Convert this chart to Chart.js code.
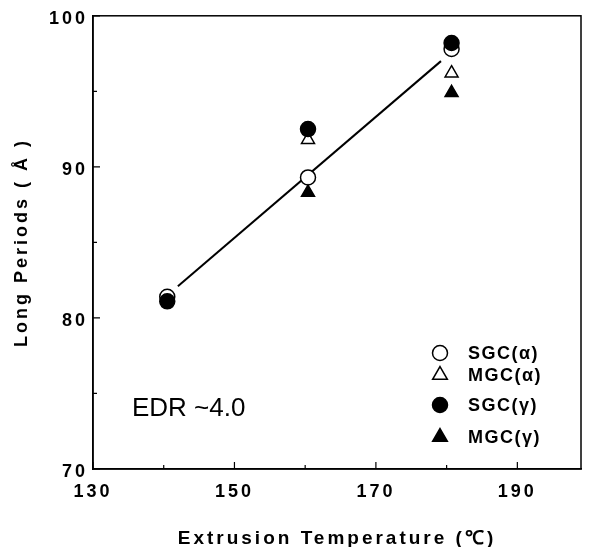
<!DOCTYPE html>
<html>
<head>
<meta charset="utf-8">
<script src="https://cdn.jsdelivr.net/npm/chart.js@4.4.1/dist/chart.umd.min.js"></script>
<style>
  html, body { margin: 0; padding: 0; background: #fff; }
  #wrap { width: 590px; height: 547px; }
</style>
</head>
<body>
<div id="wrap"><canvas id="chart"></canvas></div>
<script>
// data
const temperatures = [140.5, 160.4, 180.7];
const sgcAlpha = [81.4, 89.3, 97.8];
const mgcAlpha = [null, 91.8, 96.2];
const sgcGamma = [81.1, 92.5, 98.2];
const mgcGamma = [null, 88.3, 94.9];

// fitted line end points
const fitX = [142.0, 179.2];
const fitY = [82.1, 97.0];

const xTicks = [130, 150, 170, 190];
const xMinorTicks = [140, 160, 180];
const yTicks = [70, 80, 90, 100];
const yMinorTicks = [75, 85, 95];

const legendLabels = ["SGC(α)", "MGC(α)", "SGC(γ)", "MGC(γ)"];
const noteText = "EDR ~4.0";

const FONT = "'Liberation Sans', Arial, Helvetica, sans-serif";

function toPoints(xs, ys) {
  return xs.map((x, i) => ({ x: x, y: ys[i] })).filter(p => p.y !== null);
}

// marker styles, same order as legendLabels
const markers = [
  { pointStyle: "circle", fill: "#ffffff" },
  { pointStyle: "triangle", fill: "#ffffff" },
  { pointStyle: "circle", fill: "#000000" },
  { pointStyle: "triangle", fill: "#000000" },
];
const seriesValues = [sgcAlpha, mgcAlpha, sgcGamma, mgcGamma];
const drawOrder = [4, 4, 2, 3];

const datasets = seriesValues.map((vals, i) => ({
  type: "scatter",
  label: legendLabels[i],
  data: toPoints(temperatures, vals),
  pointStyle: markers[i].pointStyle,
  pointRadius: 7.5,
  pointHoverRadius: 7.5,
  pointBackgroundColor: markers[i].fill,
  pointBorderColor: "#000",
  pointBorderWidth: 1.5,
  showLine: false,
  order: drawOrder[i],
}));

datasets.push({
  type: "line",
  label: "fit",
  data: toPoints(fitX, fitY),
  borderColor: "#000",
  borderWidth: 2,
  pointRadius: 0,
  fill: false,
  order: 5,
});

// inward ticks, frame, legend and note
const decorations = {
  id: "decorations",
  beforeUpdate(chart) { chart.ctx.letterSpacing = "3px"; },
  beforeDraw(chart) { chart.ctx.letterSpacing = "3px"; },
  afterDraw(chart) {
    const ctx = chart.ctx;
    const a = chart.chartArea;
    const xs = chart.scales.x;
    const ys = chart.scales.y;
    ctx.save();
    ctx.letterSpacing = "0px";
    ctx.strokeStyle = "#000";
    ctx.lineWidth = 1.5;
    ctx.strokeRect(a.left, a.top, a.right - a.left, a.bottom - a.top);

    ctx.lineWidth = 1.2;
    ctx.beginPath();
    xTicks.forEach(v => {
      const px = xs.getPixelForValue(v);
      ctx.moveTo(px, a.bottom); ctx.lineTo(px, a.bottom - 7);
    });
    xMinorTicks.forEach(v => {
      const px = xs.getPixelForValue(v);
      ctx.moveTo(px, a.bottom); ctx.lineTo(px, a.bottom - 4);
    });
    yTicks.forEach(v => {
      const py = ys.getPixelForValue(v);
      ctx.moveTo(a.left, py); ctx.lineTo(a.left + 7, py);
    });
    yMinorTicks.forEach(v => {
      const py = ys.getPixelForValue(v);
      ctx.moveTo(a.left, py); ctx.lineTo(a.left + 4, py);
    });
    ctx.stroke();

    // legend
    const rowY = [353, 375, 405, 437];
    const mx = 440;
    ctx.font = "bold 18px " + FONT;
    ctx.letterSpacing = "1.5px";
    ctx.textBaseline = "middle";
    ctx.textAlign = "left";
    legendLabels.forEach((lbl, i) => {
      const y = rowY[i];
      ctx.fillStyle = markers[i].fill;
      ctx.strokeStyle = "#000";
      ctx.lineWidth = 1.5;
      ctx.beginPath();
      if (markers[i].pointStyle === "circle") {
        ctx.arc(mx, y, 7.5, 0, Math.PI * 2);
      } else {
        const r = 8.5;
        ctx.moveTo(mx, y - r);
        ctx.lineTo(mx + r * 0.866, y + r * 0.5);
        ctx.lineTo(mx - r * 0.866, y + r * 0.5);
        ctx.closePath();
      }
      ctx.fill();
      ctx.stroke();
      ctx.fillStyle = "#000";
      ctx.fillText(lbl, 468, y + 1);
    });

    // note
    ctx.letterSpacing = "0px";
    ctx.font = "26px " + FONT;
    ctx.textBaseline = "alphabetic";
    ctx.fillText(noteText, 132, 416);
    ctx.restore();
  }
};

const ctx = document.getElementById("chart").getContext("2d");
new Chart(ctx, {
  data: { datasets: datasets },
  plugins: [decorations],
  options: {
    responsive: true,
    maintainAspectRatio: false,
    animation: false,
    layout: { padding: { left: 0, right: 7, top: 15, bottom: 0 } },
    plugins: {
      legend: { display: false },
      tooltip: { enabled: false },
    },
    scales: {
      x: {
        type: "linear",
        min: 130,
        max: 199,
        afterBuildTicks: s => { s.ticks = xTicks.map(v => ({ value: v })); },
        afterFit: s => { s.height = 78; },
        grid: { display: true, drawOnChartArea: false, drawTicks: false },
        border: { display: true, color: "#000", width: 1.5 },
        ticks: {
          color: "#000",
          padding: 12,
          font: { family: FONT, size: 18, weight: "bold" },
          maxRotation: 0,
        },
        title: {
          display: true,
          text: "Extrusion Temperature (℃)",
          color: "#000",
          font: { family: FONT, size: 19, weight: "bold", lineHeight: 1 },
          padding: { top: 0, bottom: -1 },
        },
      },
      y: {
        type: "linear",
        min: 70,
        max: 100,
        afterBuildTicks: s => { s.ticks = yTicks.map(v => ({ value: v })); },
        afterFit: s => { s.width = 93; },
        grid: { display: true, drawOnChartArea: false, drawTicks: false },
        border: { display: true, color: "#000", width: 1.5 },
        ticks: {
          color: "#000",
          padding: 5,
          labelOffset: 3,
          font: { family: FONT, size: 18, weight: "bold" },
        },
        title: {
          display: true,
          text: "Long Periods ( Å )",
          color: "#000",
          font: { family: FONT, size: 18, weight: "bold" },
          padding: { top: 11, bottom: 0 },
        },
      },
    },
  },
});
</script>
</body>
</html>
